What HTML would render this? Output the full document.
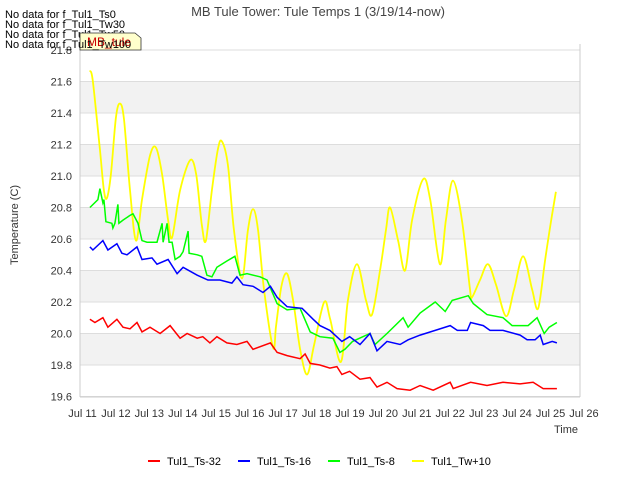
<!DOCTYPE html>
<html><head><meta charset="utf-8"><style>
body{margin:0;background:#fff;}
svg{display:block;font-family:"Liberation Sans",sans-serif;}
</style></head><body>
<svg id="chart" width="640" height="480" viewBox="0 0 640 480">
<text x="318" y="16" text-anchor="middle" font-size="13" fill="#444">MB Tule Tower: Tule Temps 1 (3/19/14-now)</text>
<g id="plot"></g>
<text transform="translate(18,225) rotate(-90)" text-anchor="middle" font-size="11" fill="#333">Temperature (C)</text>
<text x="566" y="433" text-anchor="middle" font-size="11" fill="#333">Time</text>
<g font-size="11" fill="#000">
<text x="5" y="18">No data for f_Tul1_Ts0</text>
<text x="5" y="28">No data for f_Tul1_Tw30</text>
<text x="5" y="38">No data for f_Tul1_Tw50</text>
<path d="M80,33 L135,33 L141,38 L141,50 L80,50 Z" fill="#ffffcc" stroke="#333" stroke-width="0.8"/>
<text x="87" y="46" font-size="12" fill="#cc0000">MB_tule</text>
<text x="5" y="48">No data for f_Tul1_Tw100</text>
</g>
<g id="legend" font-size="11" fill="#000"></g>
</svg>
<script>
const yTicks=[19.6,19.8,20.0,20.2,20.4,20.6,20.8,21.0,21.2,21.4,21.6,21.8];
const xTickDays=[11,12,13,14,15,16,17,18,19,20,21,22,23,24,25,26];
const seriesNames=["Tul1_Ts-32","Tul1_Ts-16","Tul1_Ts-8","Tul1_Tw+10"];
const seriesColors=["#ff0000","#0000ff","#00ff00","#ffff00"];
const tRed=[11.22,11.37,11.61,11.76,12.03,12.21,12.42,12.63,12.78,13.02,13.32,13.62,13.92,14.13,14.43,14.60,14.81,15.02,15.32,15.62,15.92,16.10,16.62,16.82,17.12,17.51,17.66,17.81,18.10,18.40,18.61,18.76,18.99,19.30,19.60,19.81,20.11,20.41,20.80,21.10,21.49,22.00,22.09,22.61,23.10,23.58,24.09,24.48,24.78,25.05,25.19];
const vRed=[20.09,20.07,20.10,20.04,20.09,20.04,20.03,20.07,20.01,20.04,20.00,20.05,19.97,20.00,19.97,19.98,19.94,19.98,19.94,19.93,19.95,19.90,19.94,19.88,19.86,19.84,19.87,19.81,19.80,19.78,19.79,19.74,19.76,19.71,19.72,19.66,19.69,19.65,19.64,19.67,19.64,19.69,19.65,19.69,19.67,19.69,19.68,19.69,19.65,19.65,19.65];
const tBlue=[11.22,11.31,11.61,11.76,12.03,12.18,12.33,12.63,12.78,13.08,13.23,13.56,13.83,14.01,14.43,14.75,15.11,15.47,15.62,15.80,16.10,16.40,16.62,16.82,17.12,17.57,17.90,18.10,18.40,18.76,18.99,19.30,19.60,19.81,20.11,20.50,20.74,21.10,21.55,22.00,22.21,22.51,22.61,22.99,23.19,23.58,24.09,24.30,24.54,24.69,24.78,25.05,25.19];
const vBlue=[20.55,20.53,20.59,20.53,20.57,20.51,20.50,20.55,20.47,20.48,20.44,20.47,20.38,20.42,20.37,20.34,20.34,20.32,20.36,20.31,20.30,20.26,20.30,20.23,20.17,20.16,20.09,20.05,20.02,19.95,19.98,19.93,20.00,19.89,19.95,19.93,19.96,19.99,20.02,20.05,20.02,20.02,20.07,20.05,20.02,20.02,19.99,19.96,19.96,19.99,19.93,19.95,19.94];
const tGreen=[11.22,11.46,11.52,11.61,11.64,11.70,11.88,11.91,11.97,12.06,12.09,12.21,12.42,12.51,12.66,12.78,12.93,13.23,13.38,13.41,13.53,13.59,13.68,13.77,13.92,14.01,14.16,14.19,14.43,14.57,14.72,14.87,15.02,15.32,15.56,15.71,15.92,16.31,16.52,16.82,17.12,17.51,17.81,18.10,18.49,18.70,18.85,19.08,19.60,19.75,20.11,20.59,20.74,21.10,21.55,21.85,22.06,22.54,22.69,23.10,23.58,23.85,24.33,24.60,24.81,24.96,25.19];
const vGreen=[20.80,20.85,20.92,20.83,20.85,20.71,20.70,20.67,20.70,20.82,20.70,20.72,20.75,20.76,20.70,20.59,20.58,20.58,20.70,20.58,20.70,20.58,20.58,20.47,20.49,20.52,20.65,20.51,20.50,20.49,20.37,20.36,20.42,20.46,20.49,20.37,20.38,20.36,20.34,20.19,20.15,20.16,20.01,19.98,19.97,19.88,19.90,19.95,20.00,19.93,20.00,20.10,20.04,20.13,20.20,20.14,20.21,20.24,20.19,20.12,20.10,20.05,20.05,20.10,20.00,20.04,20.07];
const tYellow=[11.22,11.31,11.52,11.64,11.73,11.85,12.00,12.12,12.24,12.42,12.60,12.78,13.02,13.20,13.38,13.56,13.68,13.92,14.22,14.40,14.57,14.69,14.87,15.05,15.17,15.35,15.53,15.77,15.95,16.10,16.25,16.43,16.70,16.79,16.95,17.12,17.30,17.51,17.72,17.93,18.23,18.41,18.73,18.94,19.21,19.48,19.66,19.90,20.08,20.20,20.44,20.65,20.86,21.19,21.40,21.69,21.87,22.08,22.35,22.59,22.65,22.89,23.13,23.37,23.67,23.91,24.18,24.45,24.63,24.84,25.02,25.16];
const vYellow=[21.67,21.60,21.17,20.91,20.86,21.01,21.37,21.46,21.36,20.91,20.59,20.85,21.13,21.18,21.01,20.72,20.61,20.91,21.10,21.01,20.69,20.59,20.91,21.17,21.22,21.07,20.66,20.35,20.66,20.79,20.66,20.28,19.91,20.05,20.30,20.38,20.21,19.90,19.74,19.93,20.20,20.09,19.82,20.21,20.44,20.21,20.12,20.40,20.66,20.80,20.59,20.40,20.72,20.98,20.85,20.44,20.72,20.97,20.72,20.28,20.23,20.34,20.44,20.31,20.11,20.28,20.49,20.28,20.16,20.47,20.72,20.90];

const NS="http://www.w3.org/2000/svg";
const L=80,R=580,T=44,B=397;
function xScale(d){return 82.5+(d-11)*33.43;}
function yScale(v){return 50+(21.8-v)*157.5;}
const plot=document.getElementById('plot');
function mk(tag,attrs,parent){const e=document.createElementNS(NS,tag);for(const k in attrs)e.setAttribute(k,attrs[k]);(parent||plot).appendChild(e);return e;}

mk('rect',{x:L,y:T,width:R-L,height:B-T,fill:'#fff'});
for(let i=0;i<yTicks.length-1;i++){
  if(i%2===1){
    const band=mk('rect',{x:L,y:yScale(yTicks[i+1]),width:R-L,height:yScale(yTicks[i])-yScale(yTicks[i+1]),fill:'#f2f2f2'});
    
    
  }
}
yTicks.forEach(v=>{
  const y=yScale(v);
  const g=mk('line',{x1:L,x2:R,y1:y,y2:y,stroke:'#dddddd','stroke-width':1});
  
  
  const t=mk('text',{x:72,y:y+4,'text-anchor':'end','font-size':11,fill:'#333'});
  t.textContent=v.toFixed(1);
  
  
});
mk('line',{x1:L,x2:L,y1:T,y2:B,stroke:'#cccccc'});
mk('line',{x1:R,x2:R,y1:T,y2:B,stroke:'#cccccc'});
mk('line',{x1:L,x2:R,y1:B,y2:B,stroke:'#cccccc'});
xTickDays.forEach(d=>{
  const t=mk('text',{x:xScale(d),y:417,'text-anchor':'middle','font-size':11,fill:'#333'});
  t.textContent='Jul '+d;
  
  
});
function linePath(ts,vs){return ts.map((t,i)=>(i?'L':'M')+xScale(t).toFixed(1)+','+yScale(vs[i]).toFixed(1)).join(' ');}
function smoothPath(ts,vs){
  const p=ts.map((t,i)=>[xScale(t),yScale(vs[i])]);
  let d='M'+p[0][0].toFixed(1)+','+p[0][1].toFixed(1);
  for(let i=0;i<p.length-1;i++){
    const p0=p[Math.max(0,i-1)],p1=p[i],p2=p[i+1],p3=p[Math.min(p.length-1,i+2)];
    const c1=[p1[0]+(p2[0]-p0[0])/6,p1[1]+(p2[1]-p0[1])/6];
    const c2=[p2[0]-(p3[0]-p1[0])/6,p2[1]-(p3[1]-p1[1])/6];
    d+=' C'+c1.map(n=>n.toFixed(1)).join(',')+' '+c2.map(n=>n.toFixed(1)).join(',')+' '+p2[0].toFixed(1)+','+p2[1].toFixed(1);
  }
  return d;
}
const sY=mk('path',{d:smoothPath(tYellow,vYellow),fill:'none',stroke:seriesColors[3],'stroke-width':1.8});


const sG=mk('path',{d:linePath(tGreen,vGreen),fill:'none',stroke:seriesColors[2],'stroke-width':1.5});


const sB=mk('path',{d:linePath(tBlue,vBlue),fill:'none',stroke:seriesColors[1],'stroke-width':1.5});


const sR=mk('path',{d:linePath(tRed,vRed),fill:'none',stroke:seriesColors[0],'stroke-width':1.5});



const legend=document.getElementById('legend');
const legX=[148,238,328,412];
seriesNames.forEach((n,i)=>{
  const ln=mk('line',{x1:legX[i],x2:legX[i]+12,y1:461,y2:461,stroke:seriesColors[i],'stroke-width':2},legend);
  
  
  const t=mk('text',{x:legX[i]+19,y:465,'font-size':11,fill:'#000'},legend);
  t.textContent=n;
  
  
});
</script>
</body></html>
